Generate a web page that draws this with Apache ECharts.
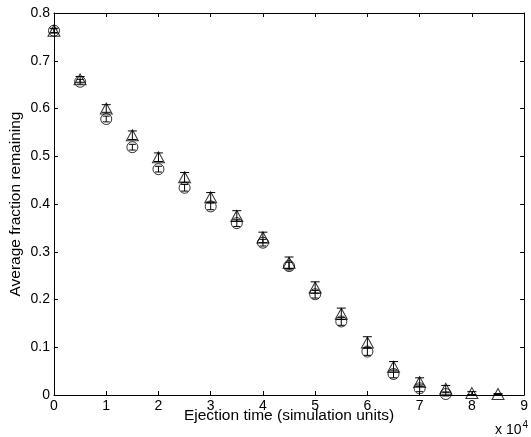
<!DOCTYPE html>
<html>
<head>
<meta charset="utf-8">
<script src="https://cdn.jsdelivr.net/npm/echarts@6/dist/echarts.min.js"></script>
<style>
  html, body { margin: 0; padding: 0; background: #fff; }
  #chart { width: 531px; height: 437px; }
</style>
</head>
<body>
<div id="chart"></div>
<script>
// Ejection times (simulation units)
const ejectionTime = [0, 5000, 10000, 15000, 20000, 25000, 30000, 35000, 40000,
                      45000, 50000, 55000, 60000, 65000, 70000, 75000, 80000, 85000];

// Triangle series: mean fraction remaining and error half-width
const triMean = [0.763, 0.661, 0.600, 0.544, 0.498, 0.456, 0.414, 0.375, 0.330,
                 0.277, 0.225, 0.170, 0.110, 0.059, 0.027, 0.013, 0.004, 0.002];
const triErr  = [0.005, 0.006, 0.008, 0.009, 0.009, 0.010, 0.010, 0.011, 0.011,
                 0.012, 0.012, 0.012, 0.012, 0.011, 0.009, 0.007, 0.003, 0.001];

// Circle series: mean fraction remaining and error half-width
const circTime = [0, 5000, 10000, 15000, 20000, 25000, 30000, 35000, 40000,
                  45000, 50000, 55000, 60000, 65000, 70000, 75000];
const circMean = [0.763, 0.656, 0.578, 0.519, 0.473, 0.434, 0.395, 0.360, 0.319,
                  0.270, 0.211, 0.154, 0.091, 0.044, 0.014, 0.002];
const circErr  = [0.004, 0.005, 0.006, 0.006, 0.006, 0.007, 0.007, 0.007, 0.007,
                  0.008, 0.008, 0.008, 0.008, 0.008, 0.007, 0.004];

// Axis ticks
const xTicks = [0, 1, 2, 3, 4, 5, 6, 7, 8, 9];          // in units of 10^4
const yTicks = [0, 0.1, 0.2, 0.3, 0.4, 0.5, 0.6, 0.7, 0.8];

const FONT = 'Liberation Sans, Arial, Helvetica, sans-serif';

function errorBarItem(capHalf) {
  return function (params, api) {
    const x = api.value(0), lo = api.value(1), hi = api.value(2);
    const pLo = api.coord([x, lo]);
    const pHi = api.coord([x, hi]);
    const style = { stroke: '#000', lineWidth: 1, fill: null };
    return {
      type: 'group',
      children: [
        { type: 'line', shape: { x1: pLo[0], y1: pLo[1], x2: pHi[0], y2: pHi[1] }, style },
        { type: 'line', shape: { x1: pHi[0] - capHalf, y1: pHi[1], x2: pHi[0] + capHalf, y2: pHi[1] }, style },
        { type: 'line', shape: { x1: pLo[0] - capHalf, y1: pLo[1], x2: pLo[0] + capHalf, y2: pLo[1] }, style }
      ]
    };
  };
}

const triData = ejectionTime.map((t, i) => [t, triMean[i]]);
const triBars = ejectionTime.map((t, i) => [t, triMean[i] - triErr[i], triMean[i] + triErr[i]]);
const circData = circTime.map((t, i) => [t, circMean[i]]);
const circBars = circTime.map((t, i) => [t, circMean[i] - circErr[i], circMean[i] + circErr[i]]);

const xMin = xTicks[0] * 1e4, xMax = xTicks[xTicks.length - 1] * 1e4;
const yMin = yTicks[0], yMax = yTicks[yTicks.length - 1];

const axisCommon = {
  axisLine: { show: true, onZero: false, lineStyle: { color: '#000', width: 1 } },
  axisTick: { show: true, inside: true, length: 4, lineStyle: { color: '#000', width: 1 } },
  splitLine: { show: false }
};

const chart = echarts.init(document.getElementById('chart'), null, { renderer: 'canvas' });
chart.setOption({
  backgroundColor: '#fff',
  animation: false,
  textStyle: { fontFamily: FONT },
  grid: { left: 52, right: 1, top: 13, bottom: 42, containLabel: false },
  xAxis: [
    Object.assign({
      type: 'value', position: 'bottom', min: xMin, max: xMax, interval: 1e4,
      axisLabel: { color: '#000', fontSize: 14, fontFamily: FONT, margin: 4,
                   formatter: v => String(Math.round(v / 1e4)) },
      name: 'Ejection time (simulation units)', nameLocation: 'middle', nameGap: 13,
      nameMoveOverlap: false,
      nameTextStyle: { color: '#000', fontSize: 15.5, fontFamily: FONT }
    }, axisCommon),
    Object.assign({
      type: 'value', position: 'top', min: xMin, max: xMax, interval: 1e4,
      axisLabel: { show: false }
    }, axisCommon)
  ],
  yAxis: [
    Object.assign({
      type: 'value', position: 'left', min: yMin, max: yMax, interval: 0.1,
      axisLabel: { color: '#000', fontSize: 14, fontFamily: FONT, margin: 4,
                   formatter: v => (Math.abs(v) < 1e-9 ? '0' : v.toFixed(1)) },
      name: 'Average fraction remaining', nameLocation: 'middle', nameGap: 30,
      nameMoveOverlap: false,
      nameTextStyle: { color: '#000', fontSize: 15.5, fontFamily: FONT }
    }, axisCommon),
    Object.assign({
      type: 'value', position: 'right', min: yMin, max: yMax, interval: 0.1,
      axisLabel: { show: false }
    }, axisCommon)
  ],
  series: [
    {
      type: 'custom', name: 'tri-err', xAxisIndex: 0, yAxisIndex: 0,
      renderItem: errorBarItem(4.5), data: triBars, encode: { x: 0, y: [1, 2] }, z: 3
    },
    {
      type: 'scatter', name: 'triangle', data: triData, symbol: 'triangle',
      symbolSize: [12, 11], clip: false,
      itemStyle: { color: 'rgba(0,0,0,0)', borderColor: '#000', borderWidth: 1 }, z: 4
    },
    {
      type: 'custom', name: 'circ-err', xAxisIndex: 0, yAxisIndex: 0,
      renderItem: errorBarItem(3.5), data: circBars, encode: { x: 0, y: [1, 2] }, z: 3
    },
    {
      type: 'scatter', name: 'circle', data: circData, symbol: 'circle',
      symbolSize: 11, clip: false,
      itemStyle: { color: 'rgba(0,0,0,0)', borderColor: '#000', borderWidth: 1 }, z: 4
    }
  ],
  graphic: [
    {
      type: 'text', left: 495, top: 420,
      style: {
        text: '{a|x 10}{b|4}',
        rich: {
          a: { fontSize: 14, fontFamily: FONT, fill: '#000', verticalAlign: 'bottom', lineHeight: 17 },
          b: { fontSize: 10, fontFamily: FONT, fill: '#000', verticalAlign: 'top', lineHeight: 17, padding: [0, 0, 7, 1] }
        }
      }
    }
  ]
});
</script>
</body>
</html>
